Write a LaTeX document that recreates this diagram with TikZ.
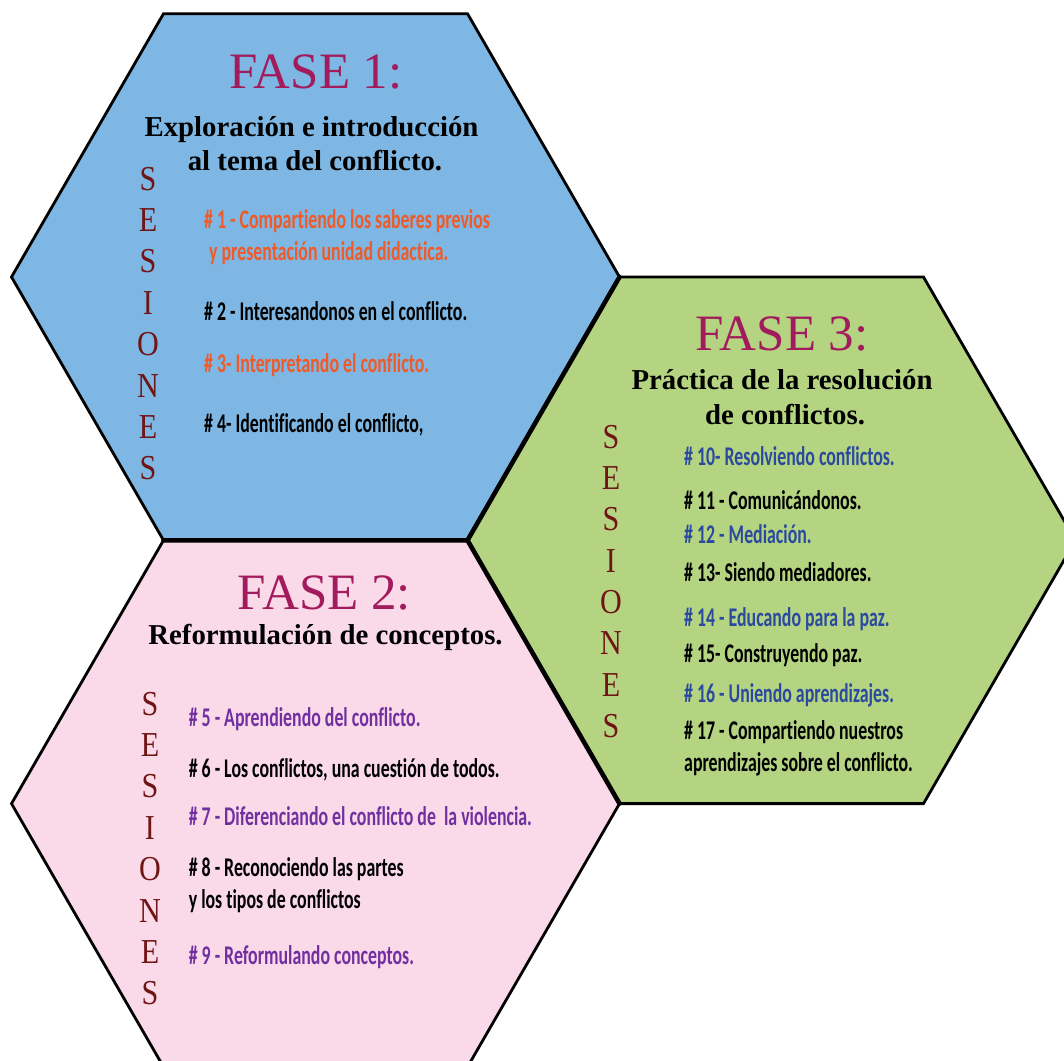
\documentclass[tikz,border=0pt]{standalone}
\usepackage{fontspec}
\setmainfont{Liberation Serif}
\newfontfamily\condsans[FakeStretch=0.66, Ligatures={NoCommon,NoRare,NoDiscretionary}, Contextuals=NoAlternate]{Carlito}
\newfontfamily\condserif[FakeStretch=0.86]{Liberation Serif}
\definecolor{hexblue}{HTML}{7EB7E3}
\definecolor{hexgreen}{HTML}{B4D482}
\definecolor{hexpink}{HTML}{FAD9E9}
\definecolor{fasecol}{HTML}{A21B5C}
\definecolor{sescol}{HTML}{701515}
\definecolor{orangetxt}{HTML}{F05A28}
\definecolor{bluetxt}{HTML}{2B4A9F}
\definecolor{purpletxt}{HTML}{7030A0}
\tikzset{
  hexagon/.style={draw=black, line width=2.8pt, line join=miter},
  sharededge/.style={draw=black, line width=4.6pt, line cap=round},
  fasetitle/.style={inner sep=0pt, anchor=base, text=fasecol, font=\fontsize{51}{56}\selectfont},
  subtitle/.style={inner sep=0pt, anchor=base, text=black, font=\bfseries\fontsize{28.8}{34}\selectfont},
  sesletter/.style={inner sep=0pt, anchor=base, text=sescol, font=\condserif\fontsize{35}{38}\selectfont},
  item/.style={inner sep=0pt, anchor=base west, font=\condsans\bfseries\fontsize{27}{30}\selectfont},
}
\begin{document}
\begin{tikzpicture}[x=1pt, y=-1pt]
\useasboundingbox (0,0) rectangle (1064,1060);
\clip (0,0) rectangle (1064,1060);
% vertices
\coordinate (b1) at (163.5,13.7);
\coordinate (b2) at (467.5,13.7);
\coordinate (b3) at (619.5,277);
\coordinate (b4) at (467.5,540.3);
\coordinate (b5) at (163.5,540.3);
\coordinate (b6) at (11.5,277);
\coordinate (g2) at (923.5,277);
\coordinate (g3) at (1075.5,540.3);
\coordinate (g4) at (923.5,803.6);
\coordinate (g5) at (619.5,803.6);
\coordinate (p4) at (467.5,1066.9);
\coordinate (p5) at (163.5,1066.9);
\coordinate (p6) at (11.5,803.6);
% hexagons
\filldraw[hexagon, fill=hexblue] (b1) -- (b2) -- (b3) -- (b4) -- (b5) -- (b6) -- cycle;
\filldraw[hexagon, fill=hexgreen] (b3) -- (g2) -- (g3) -- (g4) -- (g5) -- (b4) -- cycle;
\filldraw[hexagon, fill=hexpink] (b5) -- (b4) -- (g5) -- (p4) -- (p5) -- (p6) -- cycle;
\draw[sharededge] (b3) -- (b4) -- (b5);
\draw[sharededge] (b4) -- (g5);

% ---------- FASE 1 ----------
\node[fasetitle] (f1) at (316,88.3) {FASE 1:};
\node[subtitle] (f1a) at (311.5,136.7) {Exploración e introducción};
\node[subtitle] (f1b) at (315,170.7) {al tema del conflicto.};
\foreach \l [count=\i from 0] in {S,E,S,I,O,N,E,S}
  \node[sesletter] (sb\i) at (148,190+41.4*\i) {\l};
\node[item, text=orangetxt] (s1a) at (204,228.3) {\# 1 - Compartiendo los saberes previos};
\node[item, text=orangetxt] (s1b) at (209,260) {y presentación unidad didactica.};
\node[item, text=black] (s2) at (204,320.7) {\# 2 - Interesandonos en el conflicto.};
\node[item, text=orangetxt] (s3) at (204,372.7) {\# 3- Interpretando el conflicto.};
\node[item, text=black] (s4) at (204,432.7) {\# 4- Identificando el conflicto,};

% ---------- FASE 3 ----------
\node[fasetitle] (f3) at (782,350.7) {FASE 3:};
\node[subtitle] (f3a) at (782,389.3) {Práctica de la resolución};
\node[subtitle] (f3b) at (785,424) {de conflictos.};
\foreach \l [count=\i from 0] in {S,E,S,I,O,N,E,S}
  \node[sesletter] (sg\i) at (611,448.3+41.3*\i) {\l};
\node[item, text=bluetxt] (s10) at (684,465) {\# 10- Resolviendo conflictos.};
\node[item, text=black] (s11) at (684,509.3) {\# 11 - Comunicándonos.};
\node[item, text=bluetxt] (s12) at (684,543.6) {\# 12 - Mediación.};
\node[item, text=black] (s13) at (684,581.7) {\# 13- Siendo mediadores.};
\node[item, text=bluetxt] (s14) at (684,626) {\# 14 - Educando para la paz.};
\node[item, text=black] (s15) at (684,662.3) {\# 15- Construyendo paz.};
\node[item, text=bluetxt] (s16) at (684,702.3) {\# 16 - Uniendo aprendizajes.};
\node[item, text=black] (s17a) at (684,739.3) {\# 17 - Compartiendo nuestros};
\node[item, text=black] (s17b) at (684,771.7) {aprendizajes sobre el conflicto.};

% ---------- FASE 2 ----------
\node[fasetitle] (f2) at (324.5,609.3) {FASE 2:};
\node[subtitle] (f2a) at (325.5,644.3) {Reformulación de conceptos.};
\foreach \l [count=\i from 0] in {S,E,S,I,O,N,E,S}
  \node[sesletter] (sp\i) at (150,715+41.4*\i) {\l};
\node[item, text=purpletxt] (s5) at (188.6,726.7) {\# 5 - Aprendiendo del conflicto.};
\node[item, text=black] (s6) at (188.6,777.3) {\# 6 - Los conflictos, una cuestión de todos.};
\node[item, text=purpletxt] (s7) at (188.6,825) {\# 7 - Diferenciando el conflicto de\ \ la violencia.};
\node[item, text=black] (s8a) at (188.6,876) {\# 8 - Reconociendo las partes};
\node[item, text=black] (s8b) at (188.6,908.3) {y los tipos de conflictos};
\node[item, text=purpletxt] (s9) at (188.6,964) {\# 9 - Reformulando conceptos.};
\end{tikzpicture}
\end{document}
